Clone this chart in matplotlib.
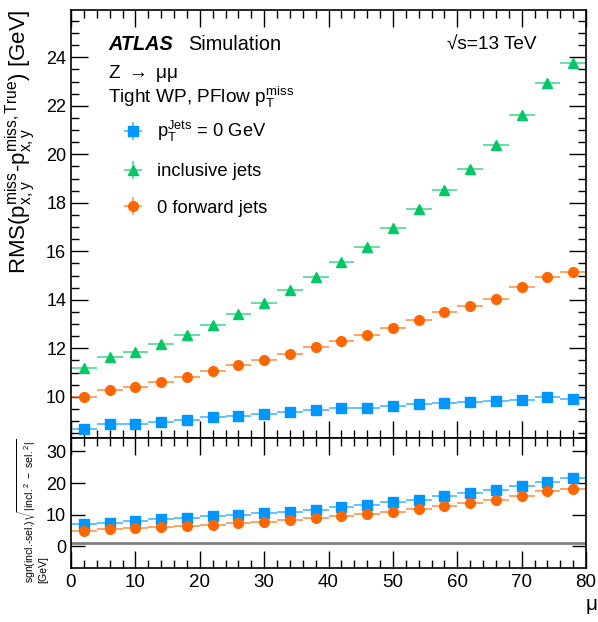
import matplotlib
matplotlib.use("Agg")
import matplotlib.pyplot as plt
import numpy as np
from matplotlib.ticker import MultipleLocator

plt.rcParams['font.family'] = ['Liberation Sans', 'DejaVu Sans']
plt.rcParams['mathtext.fontset'] = 'custom'
plt.rcParams['mathtext.rm'] = 'Liberation Sans'
plt.rcParams['mathtext.it'] = 'Liberation Sans'
plt.rcParams['mathtext.bf'] = 'Liberation Sans:bold'

# pile-up bins (centre values, width 4)
mu = [2, 6, 10, 14, 18, 22, 26, 30, 34, 38, 42, 46, 50, 54, 58, 62, 66, 70, 74, 78]
mu_err = 2

# RMS of missing pT resolution [GeV]
rms_nojets = [8.67, 8.88, 8.88, 8.98, 9.06, 9.15, 9.22, 9.31, 9.37, 9.44,
              9.52, 9.55, 9.64, 9.69, 9.75, 9.79, 9.83, 9.86, 9.99, 9.90]
rms_incl = [11.17, 11.64, 11.83, 12.17, 12.56, 12.98, 13.43, 13.87, 14.42, 14.92,
            15.54, 16.19, 16.94, 17.74, 18.53, 19.40, 20.37, 21.61, 22.93, 23.76]
rms_0fwd = [10.00, 10.29, 10.41, 10.60, 10.81, 11.06, 11.29, 11.52, 11.78, 12.04,
            12.29, 12.56, 12.85, 13.17, 13.48, 13.76, 14.03, 14.51, 14.92, 15.15]
rms_err = [0.02, 0.02, 0.02, 0.02, 0.02, 0.02, 0.03, 0.03, 0.03, 0.03,
           0.04, 0.04, 0.05, 0.05, 0.06, 0.07, 0.08, 0.10, 0.13, 0.18]

# sgn(incl.-sel.) sqrt(|incl.^2 - sel.^2|) [GeV]
diff_nojets = [7.2, 7.5, 7.9, 8.5, 8.9, 9.5, 10.0, 10.4, 10.9, 11.5,
               12.3, 13.0, 13.9, 14.8, 15.8, 16.7, 17.9, 19.2, 20.4, 21.5]
diff_0fwd = [5.0, 5.5, 5.8, 6.1, 6.5, 6.8, 7.3, 7.7, 8.3, 8.9,
             9.6, 10.2, 11.0, 11.9, 12.8, 13.7, 14.8, 16.0, 17.4, 18.1]

c_blue = '#0096ff'
c_green = '#00c864'
c_orange = '#ff6600'

fig = plt.figure(figsize=(5.98, 6.22), dpi=100)
ax = fig.add_axes([71/598, 1-438/622, 515/598, 428/622])
axr = fig.add_axes([71/598, 1-568/622, 515/598, 130/622], sharex=ax)


def points(a, y, yerr, c, m, ms):
    h = a.errorbar(mu, y, xerr=mu_err, yerr=yerr, fmt=m, color=c, ms=ms,
                   ecolor=c, elinewidth=1.4, capsize=0, mec=c, mfc=c)
    for lc in h[2]:
        lc.set_alpha(0.6)
    return h


h1 = points(ax, rms_nojets, rms_err, c_blue, 's', 7)
h2 = points(ax, rms_incl, rms_err, c_green, '^', 6.5)
h3 = points(ax, rms_0fwd, rms_err, c_orange, 'o', 7)

points(axr, diff_nojets, None, c_blue, 's', 7)
points(axr, diff_0fwd, None, c_orange, 'o', 7)
axr.axhline(1, color='#808080', lw=2)

ax.set_xlim(0, 80)
ax.set_ylim(8.3, 25.95)
axr.set_ylim(-6.8, 34.2)

ax.yaxis.set_major_locator(MultipleLocator(2))
ax.yaxis.set_minor_locator(MultipleLocator(0.5))
ax.xaxis.set_major_locator(MultipleLocator(10))
ax.xaxis.set_minor_locator(MultipleLocator(2))
axr.set_yticks([0, 10, 20, 30])

for a in (ax, axr):
    a.tick_params(which='both', direction='in', top=True, right=True, width=1)
    a.tick_params(which='major', length=12)
    a.tick_params(which='minor', length=6)
    for s in a.spines.values():
        s.set_linewidth(1.2)
ax.tick_params(axis='x', labelbottom=False)
ax.tick_params(axis='y', labelsize=13)
axr.tick_params(axis='y', labelsize=13, length=10)
axr.tick_params(axis='x', labelsize=13.5, pad=4)

fig.text(20/598, 1-9/622,
         r'RMS($\mathrm{p}_{x,y}^{\mathrm{miss}}$-$\mathrm{p}_{x,y}^{\mathrm{miss,True}}$) [GeV]',
         rotation=90, ha='center', va='top', fontsize=16)

fig.text(27/598, 39/622,
         r'sgn(incl.-sel.)$\sqrt{|\mathrm{incl.}^{2}\mathrm{\ -\ sel.}^{2}|}$',
         rotation=90, ha='center', va='bottom', fontsize=7.6)
fig.text(43/598, 39/622, '[GeV]', rotation=90, ha='center', va='bottom', fontsize=7.6)
fig.text(592/598, 17/622, 'μ', ha='center', va='center', fontsize=15)


def ax_text(px, py, s, **kw):
    # place text by reference pixel position (left, baseline)
    ax.text((px - 71) / 515, (438 - py) / 428, s, transform=ax.transAxes, **kw)


ax_text(108, 50, 'ATLAS', fontsize=14.3, fontweight='bold', fontstyle='italic')
ax_text(188, 50, 'Simulation', fontsize=14.3)
ax_text(108, 78, r'Z $\rightarrow$ μμ', fontsize=13.7)
ax_text(108, 103, r'Tight WP, PFlow $\mathrm{p}_{\mathrm{T}}^{\mathrm{miss}}$', fontsize=13.7)
ax_text(447, 50, '√s=13 TeV', fontsize=13.7)

leg = ax.legend([h1, h2, h3],
                [r'$\mathrm{p}_{\mathrm{T}}^{\mathrm{Jets}}$ = 0 GeV', 'inclusive jets',
                 '0 forward jets'],
                loc='upper left', bbox_to_anchor=((116 - 71) / 515, (438 - 119) / 428),
                frameon=False, borderaxespad=0, borderpad=0,
                fontsize=13.2, handlelength=1.85, handletextpad=0.4, labelspacing=1.05)

fig.savefig('out.png', dpi=100)
